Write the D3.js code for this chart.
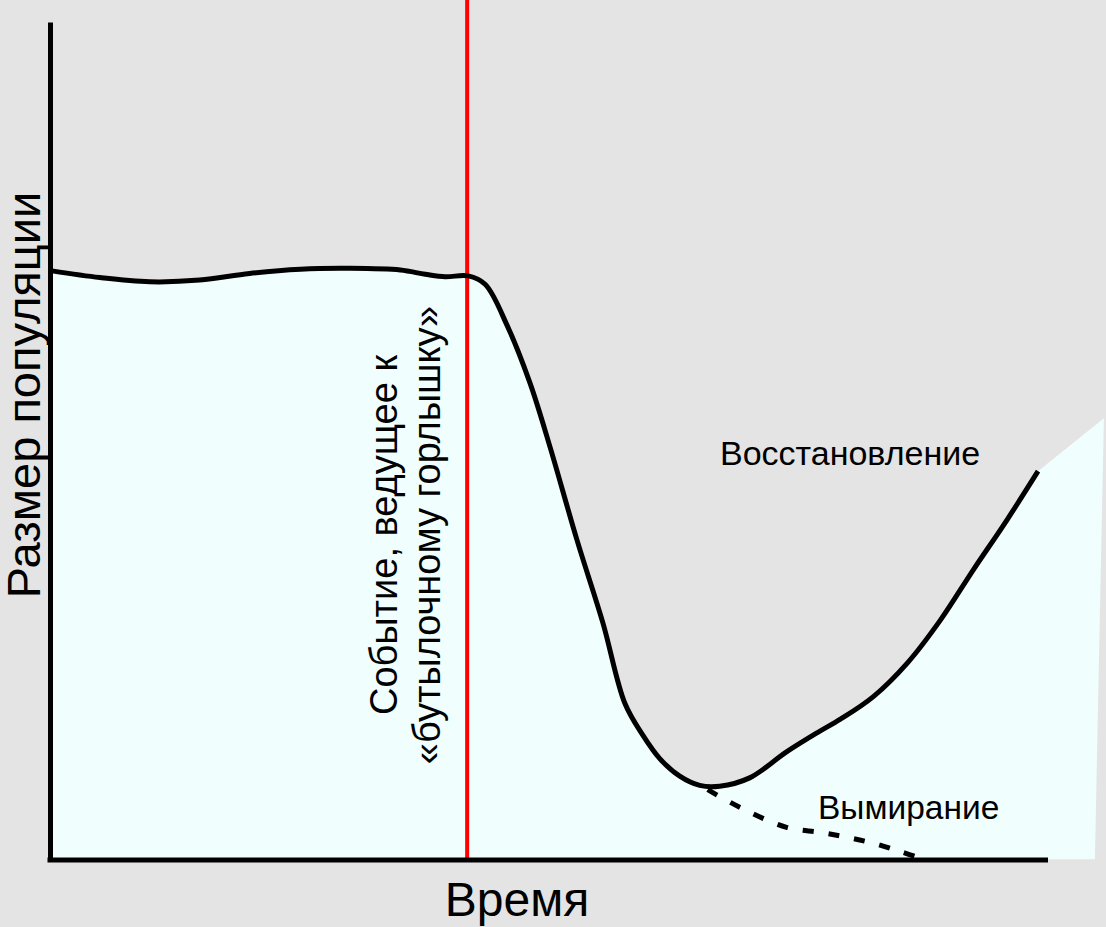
<!DOCTYPE html>
<html>
<head>
<meta charset="utf-8">
<script src="https://cdn.jsdelivr.net/npm/d3@7"></script>
<style>
    body { margin: 0; background: #e4e4e4; }
    svg { display: block; font-family: "Liberation Sans", Arial, sans-serif; }
</style>
</head>
<body>
<div class="bottleneck"></div>
<script>
// population over time (arbitrary units, 0..100)
var time = [0.2, 5.0, 10.0, 15.0, 20.0, 25.1, 30.1, 35.1, 37.6, 39.6, 41.9, 43.6,
    45.8, 48.1, 50.1, 52.8, 55.4, 57.6, 59.4, 61.1, 63.1, 65.1, 67.1,
    70.1, 73.8, 76.9, 79.2, 82.5, 85.9, 89.2, 92.5, 95.9, 99.0];
var population = [70.3, 69.5, 69.0, 69.2, 70.0, 70.5, 70.6, 70.4, 69.9, 69.6, 69.7, 68.7,
    63.8, 56.9, 49.3, 38.2, 28.3, 18.7, 14.9, 12.1, 10.0, 8.9, 8.8,
    9.8, 12.9, 15.2, 16.8, 19.5, 23.5, 28.6, 34.6, 40.6, 46.4];

// extinction branch (dashed)
var extinctTime = [65.9, 69.1, 73.8, 77.2, 79.9, 82.5, 85.2, 87.5];
var extinctPopulation = [8.4, 6.3, 3.9, 3.3, 2.7, 2.0, 1.0, 0.1];

// shaded area continues past the end of the curve
var tailTime = [105.6, 104.7];
var tailPopulation = [52.7, 0.1];

var eventTime = 41.8;

var labels = {
    x: "Время",
    y: "Размер популяции",
    event: ["Событие, ведущее к", "«бутылочному горлышку»"],
    recovery: "Восстановление",
    extinction: "Вымирание"
};

var W = 1106, H = 927;

var svg = d3.select(".bottleneck").append("svg")
    .attr("width", W)
    .attr("height", H);

svg.append("rect")
    .attr("width", W)
    .attr("height", H)
    .attr("fill", "#e4e4e4");

var x = d3.scaleLinear().domain([0, 100]).range([50, 1048]);
var y = d3.scaleLinear().domain([0, 100]).range([860, 22]);

var pts = time.map(function (t, i) { return [t, population[i]]; });
var extinct = extinctTime.map(function (t, i) { return [t, extinctPopulation[i]]; });

var line = d3.line()
    .x(function (d) { return x(d[0]); })
    .y(function (d) { return y(d[1]); })
    .curve(d3.curveCatmullRom.alpha(0.5));

// fill under the curve
var fillPath = line(pts);
tailTime.forEach(function (t, i) {
    fillPath += "L" + x(t) + "," + y(tailPopulation[i]);
});
fillPath += "L" + x(0) + "," + y(0) + "Z";

svg.append("path")
    .attr("d", fillPath)
    .attr("fill", "#f0fefe");

// event line
svg.append("line")
    .attr("x1", x(eventTime)).attr("x2", x(eventTime))
    .attr("y1", 0).attr("y2", y(0))
    .attr("stroke", "#ff0000")
    .attr("stroke-width", 4);

// axes without ticks
svg.append("g")
    .attr("transform", "translate(0," + y(0) + ")")
    .call(d3.axisBottom(x).tickValues([]).tickSizeOuter(0))
    .select(".domain")
    .attr("d", "M" + (x(0) - 2.5) + ",0H" + x(100))
    .attr("stroke", "#000")
    .attr("stroke-width", 5);

svg.append("g")
    .attr("transform", "translate(" + x(0) + ",0)")
    .call(d3.axisLeft(y).tickValues([]).tickSizeOuter(0))
    .select(".domain")
    .attr("stroke", "#000")
    .attr("stroke-width", 5);

// population curve
svg.append("path")
    .attr("d", line(pts))
    .attr("fill", "none")
    .attr("stroke", "#000")
    .attr("stroke-width", 5);

svg.append("path")
    .attr("d", line(extinct))
    .attr("fill", "none")
    .attr("stroke", "#000")
    .attr("stroke-width", 5)
    .attr("stroke-dasharray", "11,15");

// texts
svg.append("text")
    .attr("x", 517)
    .attr("y", 916)
    .attr("text-anchor", "middle")
    .attr("font-size", 48)
    .text(labels.x);

svg.append("text")
    .attr("transform", "translate(40,395) rotate(-90)")
    .attr("text-anchor", "middle")
    .attr("font-size", 47)
    .text(labels.y);

svg.append("text")
    .attr("transform", "translate(397,535) rotate(-90)")
    .attr("text-anchor", "middle")
    .attr("font-size", 38)
    .selectAll("tspan")
    .data(labels.event)
    .enter().append("tspan")
    .attr("x", 0)
    .attr("dy", function (d, i) { return i ? 43 : 0; })
    .text(function (d) { return d; });

svg.append("text")
    .attr("x", 720)
    .attr("y", 465)
    .attr("font-size", 34)
    .text(labels.recovery);

svg.append("text")
    .attr("x", 818)
    .attr("y", 819)
    .attr("font-size", 33.5)
    .text(labels.extinction);
</script>
</body>
</html>
